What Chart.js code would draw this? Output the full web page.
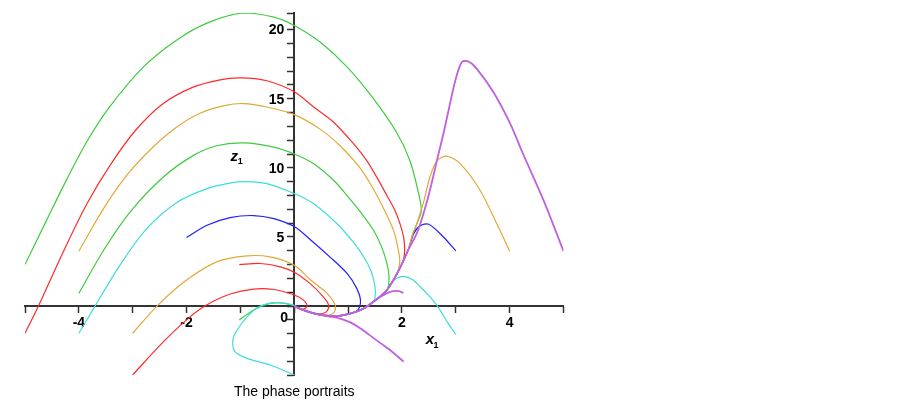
<!DOCTYPE html>
<html>
<head>
<meta charset="utf-8">
<script src="https://cdn.jsdelivr.net/npm/chart.js@4.4.1/dist/chart.umd.min.js"></script>
<style>
    html, body { margin: 0; padding: 0; background: #fff; }
    #wrap { position: relative; width: 903px; height: 405px; }
</style>
</head>
<body>
<div id="wrap"><canvas id="phaseChart"></canvas></div>
<script>
// axis ranges and labelled ticks
const xRange = [-5, 5];
const yRange = [-5, 21.2];
const xLabels = [-4, -2, 2, 4];
const yLabels = [5, 10, 15, 20];

// common path every trajectory follows into the origin
const bundle = [[2.2, 5.2], [2.12, 4.1], [2.03, 3.3], [1.91, 2.36], [1.72, 1.16], [1.47, 0.31],
    [1.29, -0.17], [1.04, -0.55], [0.8, -0.72], [0.55, -0.68], [0.3, -0.45], [0.1, -0.18], [0, 0]];

// trajectories (x1, z1)
const greenOuter = [[-5, 3.0], [-4.6, 6.2], [-4.22, 9.2], [-3.85, 11.9], [-3.45, 14.3], [-2.8, 17.3],
    [-2.2, 19.2], [-1.6, 20.5], [-0.94, 21.2], [-0.38, 20.9], [0, 20.3], [0.48, 19.1], [0.98, 17.3],
    [1.47, 15.0], [1.91, 12.5], [2.15, 10.5], [2.3, 8.3], [2.36, 6.9], [2.28, 5.97]];
const redOuter = [[-5, -1.97], [-4.75, 0], [-4.28, 4.0], [-3.85, 7.4], [-3.4, 10.3], [-2.95, 12.7],
    [-2.45, 14.6], [-1.9, 15.8], [-1.4, 16.35], [-1.0, 16.5], [-0.51, 16.3], [0, 15.5], [0.36, 14.4],
    [0.73, 13.3], [1.1, 11.75], [1.35, 10.5], [1.55, 9.2], [1.72, 8.0], [1.86, 7.0], [1.96, 6.0],
    [2.03, 5.0], [2.05, 4.2], [2.03, 3.4]];
const orangeUpper = [[-4, 3.97], [-3.55, 7.0], [-3.1, 9.5], [-2.65, 11.4], [-2.2, 12.9], [-1.75, 13.95],
    [-1.3, 14.5], [-0.94, 14.65], [-0.51, 14.4], [0, 13.85], [0.48, 12.8], [0.85, 11.6], [1.2, 10.1],
    [1.45, 8.6], [1.68, 6.9], [1.85, 5.4], [1.93, 4.1], [1.96, 3.2]];
const greenInner = [[-4, 0.92], [-3.54, 4.04], [-3.05, 6.8], [-2.43, 9.34], [-1.87, 10.9], [-1.44, 11.6],
    [-0.94, 11.8], [-0.38, 11.5], [0, 11.0], [0.36, 10.3], [0.73, 9.1], [1.0, 7.9], [1.25, 6.7],
    [1.47, 5.5], [1.62, 4.3], [1.72, 3.1], [1.76, 2.0]];
const cyanUpper = [[-4, -1.97], [-3.7, 0], [-3.23, 3.0], [-2.74, 5.6], [-2.18, 7.5], [-1.62, 8.5],
    [-1.2, 8.9], [-0.94, 9.0], [-0.51, 8.86], [0, 8.14], [0.36, 7.4], [0.79, 5.97], [1.1, 4.6],
    [1.3, 3.5], [1.43, 2.5], [1.5, 1.4], [1.5, 0.6]];
const blueLeft = [[-2, 4.96], [-1.62, 5.85], [-1.19, 6.4], [-0.76, 6.55], [-0.38, 6.33], [0, 5.75],
    [0.3, 4.8], [0.66, 3.56], [0.98, 2.36], [1.16, 1.28], [1.23, 0.4], [1.18, -0.3]];
const orangeLower = [[-3, -1.97], [-2.55, 0], [-2.0, 1.88], [-1.44, 3.2], [-0.88, 3.63], [-0.45, 3.56],
    [0, 2.95], [0.3, 1.9], [0.6, 0.95], [0.76, 0.07], [0.74, -0.45], [0.6, -0.66]];
const redLower = [[-3, -4.98], [-2.49, -2.82], [-2.0, -1.0], [-1.66, 0], [-1.19, 0.87], [-0.76, 1.23],
    [-0.38, 1.2], [0, 0.8], [0.17, 0.43], [0.24, 0], [0.17, -0.22], [0.05, -0.1]];
const redSmall = [[-1.02, 3.0], [-0.63, 3.08], [-0.26, 2.84], [0, 2.45], [0.29, 1.64], [0.54, 0.67],
    [0.64, 0.05], [0.6, -0.4], [0.45, -0.58]];
const cyanLower = [[0, -4.98], [-0.45, -4.26], [-0.88, -3.78], [-1.1, -3.3], [-1.14, -2.45], [-1.06, -1.73],
    [-0.88, -0.8], [-0.68, -0.1], [-0.45, 0.22], [-0.2, 0.22], [0, 0.05]];
const greenLower = [[-1.02, -1.0], [-0.76, -0.3], [-0.57, 0.05], [-0.4, 0.22], [-0.2, 0.22], [0, 0.05]];
const blueRight = [[3.0, 4.0], [2.77, 5.0], [2.5, 5.92], [2.34, 5.82], [2.22, 5.25]];
const cyanRight = [[3.0, -2.05], [2.85, -1.2], [2.66, 0], [2.5, 0.75], [2.34, 1.4], [2.2, 1.9],
    [2.03, 2.15], [1.9, 2.0], [1.78, 1.6]];
const purpleSmall = [[2.03, 0.96], [1.91, 1.1], [1.78, 1.03], [1.6, 0.67], [1.47, 0.31]];
const purpleLower = [[2.03, -4.02], [1.8, -3.25], [1.6, -2.68], [1.4, -2.1], [1.23, -1.62], [1.05, -1.2],
    [0.85, -0.9], [0.61, -0.72]];
const orangeRight = [[4.0, 3.97], [3.76, 5.97], [3.45, 8.38], [3.08, 10.3], [2.83, 10.85], [2.65, 10.5],
    [2.52, 9.34], [2.4, 7.5], [2.28, 6.0]];
const purpleBig = [[5, 3.97], [4.63, 7.65], [4.25, 11.0], [4.01, 13.2], [3.7, 15.47], [3.39, 17.16],
    [3.23, 17.7], [3.11, 17.64], [2.99, 16.3], [2.89, 14.6], [2.77, 12.47], [2.65, 10.54], [2.52, 8.38],
    [2.4, 6.7], [2.28, 5.3]];

const GREEN = '#3ccc3c';
const RED = '#ff2a2a';
const ORANGE = '#e2a836';
const CYAN = '#3cdcdc';
const BLUE = '#2020ff';
const PURPLE = '#c060e0';

// [points, colour, where it joins the bundle]
const curves = [
    [purpleBig, PURPLE, 1],
    [orangeRight, ORANGE, 0],
    [blueRight, BLUE, 1],
    [cyanRight, CYAN, 4],
    [purpleSmall, PURPLE, 6],
    [purpleLower, PURPLE, 10],
    [cyanLower, CYAN, null],
    [greenLower, GREEN, null],
    [redLower, RED, null],
    [redSmall, RED, 10],
    [orangeLower, ORANGE, 10],
    [blueLeft, BLUE, 7],
    [cyanUpper, CYAN, 5],
    [greenInner, GREEN, 4],
    [orangeUpper, ORANGE, 3],
    [redOuter, RED, 3],
    [greenOuter, GREEN, 0]
];

const datasets = curves.map(function(c) {
    const pts = c[2] === null ? c[0] : c[0].concat(bundle.slice(c[2]));
    return {
        data: pts.map(p => ({ x: p[0], y: p[1] })),
        borderColor: c[1],
        borderWidth: c[1] === PURPLE ? 1.8 : 1.2,
        pointRadius: 0,
        showLine: true,
        fill: false,
        tension: 0.3
    };
});

const fontFamily = '"Liberation Sans", Arial, sans-serif';

// axis text: y tick labels, the shared "0" and the axis names with subscripts
const axisText = {
    id: 'axisText',
    afterDraw(chart) {
        const ctx = chart.ctx;
        const xs = chart.scales.x, ys = chart.scales.y;
        const x0 = xs.getPixelForValue(0), y0 = ys.getPixelForValue(0);
        ctx.save();
        ctx.fillStyle = '#000';
        ctx.font = 'bold 14px ' + fontFamily;

        ctx.textAlign = 'right';
        ctx.textBaseline = 'middle';
        yLabels.forEach(function(v) {
            ctx.fillText(String(v), x0 - 10, ys.getPixelForValue(v) + 1);
        });

        ctx.textAlign = 'center';
        ctx.fillText('0', x0 - 10, y0 + 12);

        ctx.textBaseline = 'alphabetic';
        ctx.font = 'italic bold 15px ' + fontFamily;
        ctx.fillText('z', x0 - 60, ys.getPixelForValue(10.5));
        ctx.fillText('x', xs.getPixelForValue(2.52), y0 + 38);
        ctx.font = 'bold 9px ' + fontFamily;
        ctx.fillText('1', x0 - 54, ys.getPixelForValue(10.5) + 3);
        ctx.fillText('1', xs.getPixelForValue(2.52) + 6, y0 + 42);
        ctx.restore();
    }
};

const tickFont = { family: fontFamily, size: 14, weight: 'bold' };

new Chart(document.getElementById('phaseChart'), {
    type: 'scatter',
    data: { datasets: datasets },
    options: {
        responsive: true,
        maintainAspectRatio: false,
        animation: false,
        layout: { padding: { left: 25, right: 339.5, top: 13, bottom: 4 } },
        scales: {
            x: {
                type: 'linear',
                min: xRange[0],
                max: xRange[1],
                position: { y: 0 },
                afterFit: function(scale) { scale.height = 0; },
                border: { display: true, color: '#333', width: 2 },
                grid: { drawOnChartArea: false, drawTicks: true, tickLength: 6, color: '#333', tickWidth: 1.5 },
                ticks: {
                    stepSize: 1,
                    autoSkip: false,
                    maxRotation: 0,
                    padding: 3,
                    color: '#000',
                    font: tickFont,
                    callback: v => xLabels.includes(v) ? String(v) : ''
                }
            },
            y: {
                type: 'linear',
                min: yRange[0],
                max: yRange[1],
                position: { x: 0 },
                afterFit: function(scale) { scale.width = 0; },
                border: { display: true, color: '#333', width: 2 },
                grid: { drawOnChartArea: false, drawTicks: true, tickLength: 6, color: '#333', tickWidth: 1.5 },
                ticks: {
                    stepSize: 1,
                    autoSkip: false,
                    color: '#000',
                    font: tickFont,
                    callback: () => ''
                }
            }
        },
        plugins: {
            legend: { display: false },
            tooltip: { enabled: false },
            title: {
                display: true,
                text: 'The phase portraits',
                position: 'bottom',
                color: '#000',
                padding: { top: 9, bottom: 0 },
                font: { family: fontFamily, size: 14, weight: 'normal' }
            }
        }
    },
    plugins: [axisText]
});
</script>
</body>
</html>
